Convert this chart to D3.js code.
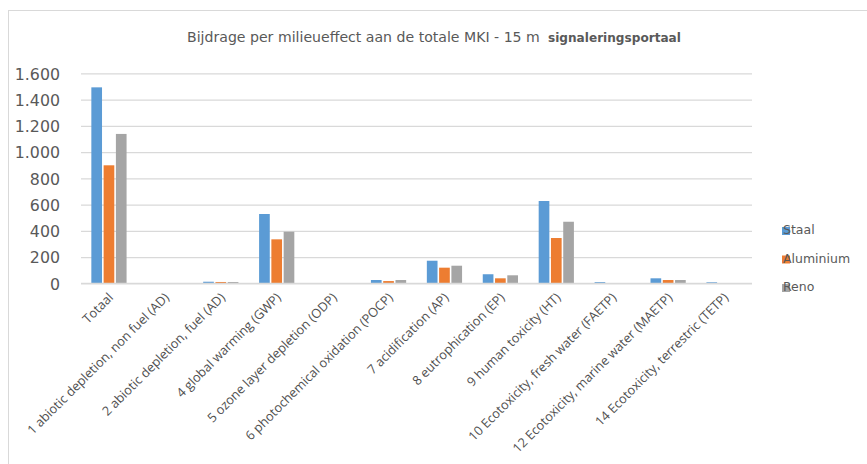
<!DOCTYPE html>
<html>
<head>
<meta charset="utf-8">
<script src="https://cdn.jsdelivr.net/npm/d3@7"></script>
<style>
  html, body { margin: 0; padding: 0; background: #fff; }
  svg { display: block; }
</style>
</head>
<body>
<svg id="chart" width="867" height="464"></svg>
<script>
// Impact categories along the x axis
const categories = [
  "Totaal",
  "1 abiotic depletion, non fuel (AD)",
  "2 abiotic depletion, fuel (AD)",
  "4 global warming (GWP)",
  "5 ozone layer depletion (ODP)",
  "6 photochemical oxidation (POCP)",
  "7 acidification (AP)",
  "8 eutrophication (EP)",
  "9 human toxicity (HT)",
  "10 Ecotoxicity, fresh water (FAETP)",
  "12 Ecotoxicity, marine water (MAETP)",
  "14 Ecotoxicity, terrestric (TETP)"
];

// MKI contribution per material
const seriesNames = ["Staal", "Aluminium", "Reno"];
const staal     = [1493, 0, 12, 528, 0, 25, 172, 69, 627, 9, 38, 8];
const aluminium = [ 899, 0, 10, 335, 0, 17, 119, 38, 345, 1, 25, 1];
const reno      = [1138, 0, 10, 393, 0, 25, 134, 61, 469, 1, 25, 1];

const yTicks = [0, 200, 400, 600, 800, 1000, 1200, 1400, 1600];

const colors = ["#5B9BD5", "#ED7D31", "#A5A5A5"];
const textColor = "#595959";

const seriesValues = [staal, aluminium, reno];
const rows = categories.map((c, i) => ({
  category: c,
  values: seriesNames.map((s, k) => ({ series: s, value: seriesValues[k][i] }))
}));

const svg = d3.select("#chart");

// Outer chart frame
svg.append("rect")
  .attr("x", 8.5).attr("y", 10.5)
  .attr("width", 880).attr("height", 470)
  .attr("fill", "#fff")
  .attr("stroke", "#d9d9d9").attr("stroke-width", 1);

const plot = { left: 81, right: 752, top: 73.3, bottom: 283.3 };

const nl = d3.formatLocale({ decimal: ",", thousands: ".", grouping: [3], currency: ["€", ""] });
const fmt = nl.format(",d");

const y = d3.scaleLinear().domain([0, 1600]).range([plot.bottom, plot.top]);

const x0 = d3.scaleBand()
  .domain(categories)
  .range([plot.left, plot.right])
  .paddingInner(0.37)
  .paddingOuter(0.185);

const x1 = d3.scaleBand()
  .domain(seriesNames)
  .range([0, x0.bandwidth()])
  .paddingInner(0.13);

const color = d3.scaleOrdinal().domain(seriesNames).range(colors);

// Horizontally condense a text node so it spans the given width
function fitWidth(sel, width) {
  const node = sel.node();
  const w = node.getComputedTextLength();
  const x = +sel.attr("x"), yy = +sel.attr("y");
  sel.attr("x", 0).attr("y", 0)
    .attr("transform", `translate(${x},${yy}) scale(${width / w},1)`);
}

// Gridlines and y labels
const yAxis = d3.axisLeft(y)
  .tickValues(yTicks)
  .tickFormat(d => fmt(d))
  .tickSize(-(plot.right - plot.left))
  .tickPadding(21);

const gy = svg.append("g")
  .attr("transform", `translate(${plot.left},0)`)
  .call(yAxis);
gy.select(".domain").remove();
gy.selectAll(".tick line")
  .attr("stroke", "#d9d9d9")
  .attr("stroke-width", 1.3);
gy.selectAll(".tick text")
  .attr("fill", textColor)
  .attr("font-family", "DejaVu Sans, Verdana, sans-serif")
  .attr("font-size", 15.8)
  .attr("dy", "0.36em");

// Bars
const groups = svg.append("g")
  .selectAll("g")
  .data(rows)
  .join("g")
  .attr("transform", d => `translate(${x0(d.category)},0)`);

groups.selectAll("rect")
  .data(d => d.values)
  .join("rect")
  .attr("x", d => x1(d.series))
  .attr("width", x1.bandwidth())
  .attr("y", d => y(d.value))
  .attr("height", d => y(0) - y(d.value))
  .attr("fill", d => color(d.series));

// Baseline
svg.append("line")
  .attr("x1", plot.left).attr("x2", plot.right)
  .attr("y1", y(0)).attr("y2", y(0))
  .attr("stroke", "#d9d9d9").attr("stroke-width", 1.3);

// Category labels, rotated
const xAxis = d3.axisBottom(x0).tickSize(0).tickPadding(0);
const gx = svg.append("g")
  .attr("transform", `translate(0,${plot.bottom})`)
  .call(xAxis);
gx.select(".domain").remove();
const xLabels = gx.selectAll(".tick text")
  .attr("fill", "#505050")
  .attr("font-family", "Open Sans, sans-serif")
  .attr("font-size", 12)
  .attr("text-anchor", "end")
  .attr("dy", null)
  .attr("y", null)
  .attr("transform", "translate(5,15) rotate(-45)");
// Size the labels so the longest-known one spans its slot
{
  const ref = xLabels.filter(d => d === categories[1]).node();
  const k = 194 / ref.getComputedTextLength();
  xLabels.attr("font-size", 12 * k);
}

// Title: regular part and bold part
const title = svg.append("g").attr("fill", textColor);
title.append("text")
  .attr("x", 187).attr("y", 42)
  .attr("font-family", "DejaVu Sans, Verdana, sans-serif")
  .attr("font-size", 14.5)
  .text("Bijdrage per milieueffect aan de totale MKI - 15 m")
  .call(fitWidth, 353);
title.append("text")
  .attr("x", 548).attr("y", 42)
  .attr("font-family", "DejaVu Sans, Verdana, sans-serif")
  .attr("font-weight", "bold")
  .attr("font-size", 12)
  .text("signaleringsportaal")
  .call(fitWidth, 133);

// Legend
const legend = svg.append("g")
  .selectAll("g")
  .data(seriesNames)
  .join("g")
  .attr("transform", (d, i) => `translate(782,${234 + i * 28.5})`);

legend.append("rect")
  .attr("x", 0).attr("y", -7)
  .attr("width", 8).attr("height", 8)
  .attr("fill", d => color(d));

legend.append("text")
  .attr("x", 1).attr("y", 0)
  .attr("fill", textColor)
  .attr("font-family", "DejaVu Sans, Verdana, sans-serif")
  .attr("font-size", 12.5)
  .text(d => d);
</script>
</body>
</html>
